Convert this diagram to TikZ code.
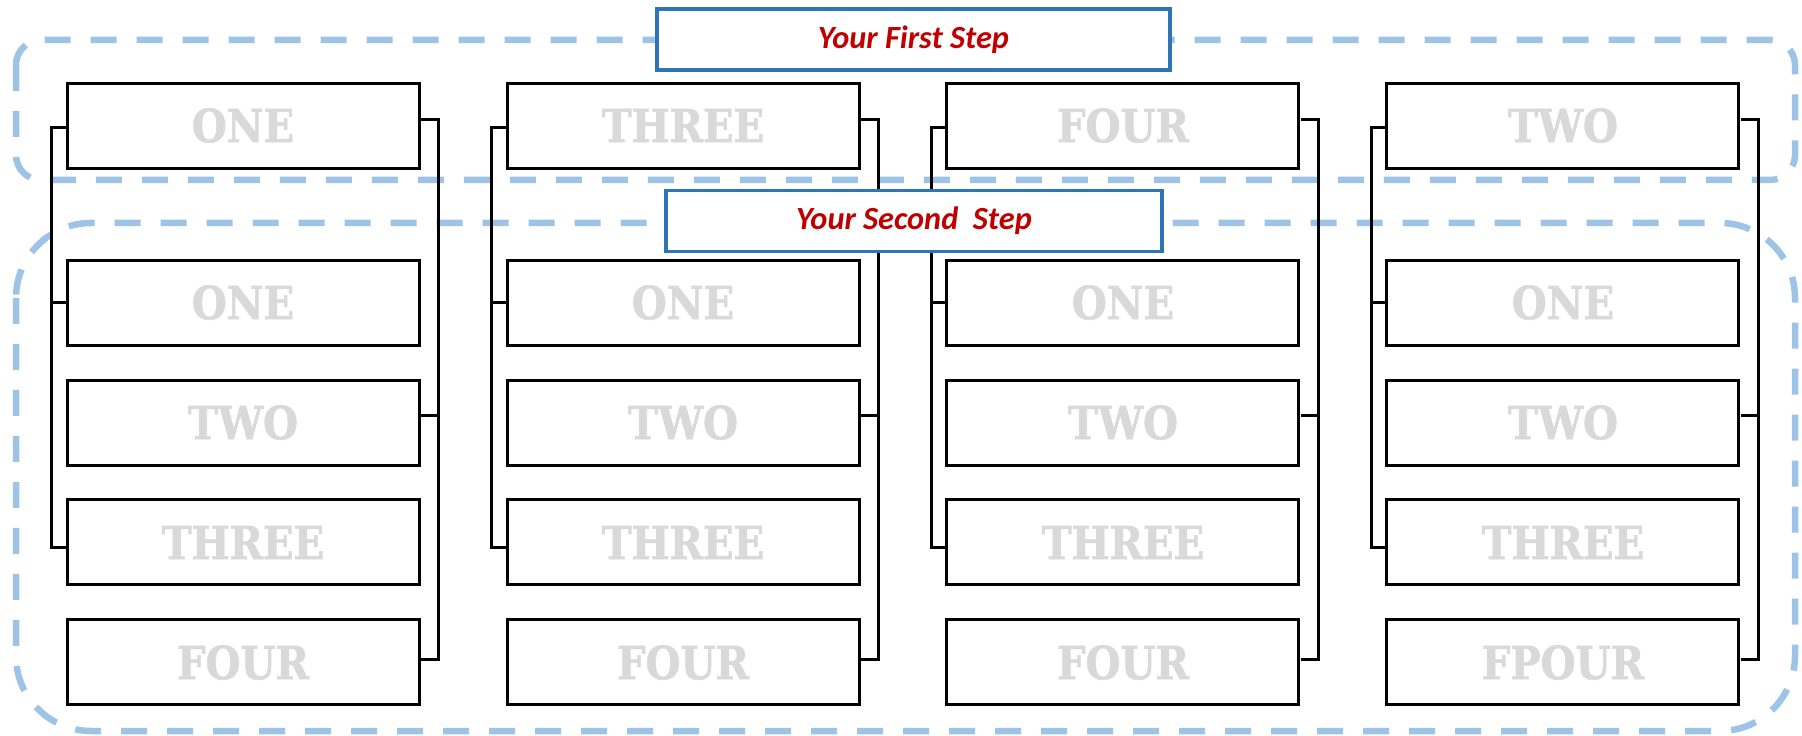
\documentclass[tikz,border=0pt]{standalone}
\usepackage{fontspec}
\usepackage{tikz}
\usetikzlibrary{matrix,positioning}
\newfontfamily\stencilfont{DejaVu Serif}[FakeStretch=0.88,FakeBold=1.3]
\newfontfamily\calibrifont{Carlito}
\definecolor{dashblue}{RGB}{157,195,230}
\definecolor{frameblue}{RGB}{46,117,182}
\definecolor{stepred}{RGB}{192,0,0}
\definecolor{labelgrey}{RGB}{217,217,217}

\begin{document}
\begin{tikzpicture}[x=0.1mm,y=0.1mm,
slot/.style={draw, line width=0.3mm, fill=white, minimum width=35.2mm, minimum height=8.5mm, inner sep=0pt, anchor=center,
  font=\stencilfont\bfseries\fontsize{13pt}{13pt}\selectfont, text=labelgrey},
joint/.style={line width=0.27mm},
stage/.style={draw=dashblue, line width=0.65mm, dash pattern=on 2.6mm off 2mm},
steptitle/.style={draw=frameblue, line width=0.35mm, fill=white, minimum height=6.1mm, inner sep=0pt,
  font=\calibrifont\bfseries\itshape\fontsize{9.2pt}{11pt}\selectfont, text=stepred}]
\useasboundingbox (0,0) rectangle (1802,-736);
\draw [stage, rounded corners=2.5mm] (16,-40) rectangle (1795,-180);
\draw [stage, rounded corners=7.5mm] (16,-223) rectangle (1795,-731);
\matrix [matrix of nodes,
column sep={44mm,between origins},
row sep={12mm,between origins},
nodes={slot}] at (903,-394)
{
|(b1-0)| ONE & |(b2-0)| THREE & |(b3-0)| FOUR & |(b4-0)| TWO \\[5.7mm]
|(b1-1)| ONE & |(b2-1)| ONE & |(b3-1)| ONE & |(b4-1)| ONE \\
|(b1-2)| TWO & |(b2-2)| TWO & |(b3-2)| TWO & |(b4-2)| TWO \\
|(b1-3)| THREE & |(b2-3)| THREE & |(b3-3)| THREE & |(b4-3)| THREE \\
|(b1-4)| FOUR & |(b2-4)| FOUR & |(b3-4)| FOUR & |(b4-4)| FPOUR \\
};
\begin{scope}[joint]
\foreach \col in {1,...,4}{
\draw ([yshift=-0.2mm]b\col-0.west) -- ++(-14,0) |- ([yshift=-0.5mm]b\col-3.west);
\draw (b\col-1.west) -- ++(-14,0);
\draw ([yshift=0.6mm]b\col-0.east) -- ++(18,0) |- ([yshift=0.3mm]b\col-4.east);
\draw ([yshift=0.7mm]b\col-2.east) -- ++(18,0);
}
\end{scope}
\node (first) [steptitle, minimum width=51.3mm] at (913.5,-39.5) {Your First Step};
\node (second) [steptitle, minimum width=49.6mm] at (914,-221) {Your Second\ \ Step};
\end{tikzpicture}
\end{document}
